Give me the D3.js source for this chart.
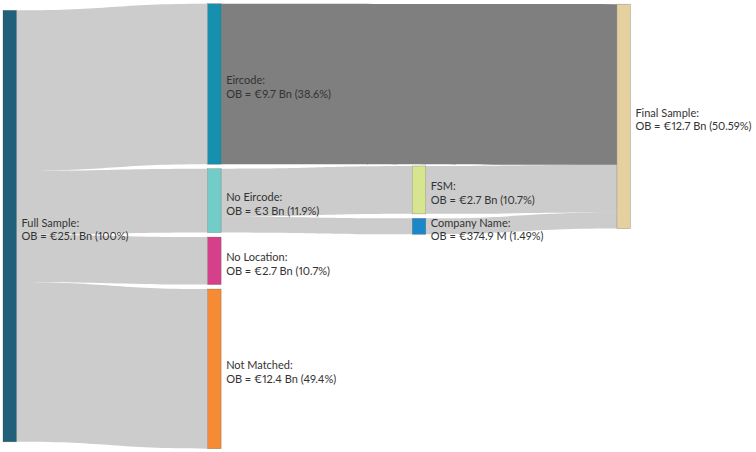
<!DOCTYPE html>
<html lang="en">
<head>
  <meta charset="UTF-8">
  <script src="https://cdn.jsdelivr.net/npm/d3@7"></script>
  <title>Sample flow</title>
  <style>
    body { margin: 0; background: #fff; }
    text { font-family: Lato, "Open Sans", sans-serif; font-size: 11px; fill: #333; font-variant-numeric: proportional-nums; }
  </style>
</head>
<body>
  <svg width="756" height="452"></svg>
  <script>
    // nodes
    var nodeNames = ["Full Sample", "Eircode", "No Eircode", "No Location", "Not Matched", "FSM", "Company Name", "Final Sample"];
    var nodeOB = ["€25.1 Bn", "€9.7 Bn", "€3 Bn", "€2.7 Bn", "€12.4 Bn", "€2.7 Bn", "€374.9 M", "€12.7 Bn"];
    var nodePct = ["100%", "38.6%", "11.9%", "10.7%", "49.4%", "10.7%", "1.49%", "50.59%"];
    var nodePalette = ["#21607a", "#1690ad", "#72cdc9", "#d6408b", "#f68b36", "#d8e590", "#1b87c9", "#e5d19f"];

    // links (band widths, as % of the full sample)
    var linkSource = [0, 0, 0, 0, 2, 2, 1, 5, 6];
    var linkTarget = [1, 2, 3, 4, 5, 6, 7, 7, 7];
    var linkValue = [37.2, 14.8, 11.0, 37.0, 11.1, 3.7, 37.2, 11.1, 3.7];
    var highlight = [false, false, false, false, false, false, true, false, false];

    var svg = d3.select("svg");
    var extent = [[3, 3.7], [630.4, 448.7]];
    var nodeWidth = 13.5, nodePad = 4.5;

    var color = d3.scaleOrdinal().domain(nodeNames).range(nodePalette);

    var nodes = nodeNames.map(function (d, i) { return { name: d, ob: nodeOB[i], pct: nodePct[i], index: i }; });
    var links = linkValue.map(function (v, i) {
      return { source: linkSource[i], target: linkTarget[i], value: v, hi: highlight[i], index: i };
    });

    sankey(nodes, links);

    // small sankey layout, same steps as d3-sankey (node order kept as given)
    function sankey(nodes, links) {
      var y0 = extent[0][1], y1 = extent[1][1], py = nodePad;
      nodes.forEach(function (n) { n.sourceLinks = []; n.targetLinks = []; });
      links.forEach(function (l) {
        l.source = nodes[l.source]; l.target = nodes[l.target];
        l.source.sourceLinks.push(l); l.target.targetLinks.push(l);
      });
      nodes.forEach(function (n) {
        n.value = Math.max(d3.sum(n.sourceLinks, l => l.value), d3.sum(n.targetLinks, l => l.value));
      });

      var current = new Set(nodes), depth = 0;
      while (current.size) {
        var next = new Set();
        current.forEach(function (n) {
          n.layer = depth;
          n.sourceLinks.forEach(l => next.add(l.target));
        });
        depth++;
        current = next;
      }
      var xScale = d3.scaleLinear().domain([0, depth - 1]).range([extent[0][0], extent[1][0] - nodeWidth]);
      nodes.forEach(function (n) { n.x0 = xScale(n.layer); n.x1 = n.x0 + nodeWidth; });

      var columns = d3.groups(nodes, n => n.layer).sort((a, b) => a[0] - b[0]).map(g => g[1]);

      var byY = (a, b) => a.y0 - b.y0;
      var bySource = (a, b) => byY(a.source, b.source) || a.index - b.index;
      var byTarget = (a, b) => byY(a.target, b.target) || a.index - b.index;

      var ky = d3.min(columns, c => (y1 - y0 - (c.length - 1) * py) / d3.sum(c, n => n.value));
      columns.forEach(function (col) {
        var y = y0;
        col.forEach(function (n) {
          n.y0 = y; n.y1 = y + n.value * ky; y = n.y1 + py;
          n.sourceLinks.forEach(l => l.width = l.value * ky);
        });
        y = (y1 - y + py) / (col.length + 1);
        col.forEach(function (n, i) { n.y0 += y * (i + 1); n.y1 += y * (i + 1); });
        col.forEach(function (n) { n.sourceLinks.sort(byTarget); n.targetLinks.sort(bySource); });
      });

      function reorderNodeLinks(n) {
        n.targetLinks.forEach(l => l.source.sourceLinks.sort(byTarget));
        n.sourceLinks.forEach(l => l.target.targetLinks.sort(bySource));
      }
      function targetTop(s, t) {
        var y = s.y0 - (s.sourceLinks.length - 1) * py / 2;
        for (var l of s.sourceLinks) { if (l.target === t) break; y += l.width + py; }
        for (var l of t.targetLinks) { if (l.source === s) break; y -= l.width; }
        return y;
      }
      function sourceTop(s, t) {
        var y = t.y0 - (t.targetLinks.length - 1) * py / 2;
        for (var l of t.targetLinks) { if (l.source === s) break; y += l.width + py; }
        for (var l of s.sourceLinks) { if (l.target === t) break; y -= l.width; }
        return y;
      }
      function down(col, y, i, a) {
        for (; i < col.length; ++i) {
          var n = col[i], dy = (y - n.y0) * a;
          if (dy > 1e-6) { n.y0 += dy; n.y1 += dy; }
          y = n.y1 + py;
        }
      }
      function up(col, y, i, a) {
        for (; i >= 0; --i) {
          var n = col[i], dy = (n.y1 - y) * a;
          if (dy > 1e-6) { n.y0 -= dy; n.y1 -= dy; }
          y = n.y0 - py;
        }
      }
      function collide(col, a) {
        var i = col.length >> 1, s = col[i];
        up(col, s.y0 - py, i - 1, a);
        down(col, s.y1 + py, i + 1, a);
        up(col, y1, col.length - 1, a);
        down(col, y0, 0, a);
      }

      var iterations = 50;
      for (var it = 0; it < iterations; ++it) {
        var alpha = Math.pow(0.99, it), beta = Math.max(1 - alpha, (it + 1) / iterations);
        // right to left
        for (var c = columns.length - 2; c >= 0; --c) {
          columns[c].forEach(function (s) {
            var y = 0, w = 0;
            s.sourceLinks.forEach(function (l) {
              var v = l.value * (l.target.layer - s.layer);
              y += sourceTop(s, l.target) * v; w += v;
            });
            if (!(w > 0)) return;
            var dy = (y / w - s.y0) * alpha;
            s.y0 += dy; s.y1 += dy;
            reorderNodeLinks(s);
          });
          collide(columns[c], beta);
        }
        // left to right
        for (var c = 1; c < columns.length; ++c) {
          columns[c].forEach(function (t) {
            var y = 0, w = 0;
            t.targetLinks.forEach(function (l) {
              var v = l.value * (t.layer - l.source.layer);
              y += targetTop(l.source, t) * v; w += v;
            });
            if (!(w > 0)) return;
            var dy = (y / w - t.y0) * alpha;
            t.y0 += dy; t.y1 += dy;
            reorderNodeLinks(t);
          });
          collide(columns[c], beta);
        }
      }

      nodes.forEach(function (n) {
        var a = n.y0, b = n.y0;
        n.sourceLinks.forEach(l => { l.y0 = a + l.width / 2; a += l.width; });
        n.targetLinks.forEach(l => { l.y1 = b + l.width / 2; b += l.width; });
      });
    }

    // filled band between two curves, like plotly's link shape
    function band(l) {
      var x0 = l.source.x1, x1 = l.target.x0, xm = d3.interpolateNumber(x0, x1)(0.5);
      var h = l.width / 2, p = d3.path();
      p.moveTo(x0, l.y0 - h);
      p.bezierCurveTo(xm, l.y0 - h, xm, l.y1 - h, x1, l.y1 - h);
      p.lineTo(x1, l.y1 + h);
      p.bezierCurveTo(xm, l.y1 + h, xm, l.y0 + h, x0, l.y0 + h);
      p.closePath();
      return p.toString();
    }

    svg.append("g")
      .selectAll("path")
      .data(links)
      .enter()
      .append("path")
      .attr("d", band)
      .attr("fill", d => d.hi ? "rgba(0,0,0,0.5)" : "rgba(0,0,0,0.2)");

    var gs = svg.append("g")
      .selectAll("g")
      .data(nodes)
      .enter()
      .append("g");

    gs.append("rect")
      .attr("x", d => d.x0)
      .attr("y", d => d.y0)
      .attr("width", d => d.x1 - d.x0)
      .attr("height", d => d.y1 - d.y0)
      .attr("fill", d => color(d.name))
      .attr("stroke", "#444")
      .attr("stroke-opacity", 0.5)
      .attr("stroke-width", 0.5);

    var label = gs.append("text");
    label.append("tspan")
      .attr("x", d => d.x1 + 5)
      .attr("y", d => (d.y0 + d.y1) / 2 + 0.5)
      .text(d => d.name + ":");
    label.append("tspan")
      .attr("x", d => d.x1 + 5)
      .attr("y", d => (d.y0 + d.y1) / 2 + 14)
      .text(d => "OB = " + d.ob + " (" + d.pct + ")");
  </script>
</body>
</html>
